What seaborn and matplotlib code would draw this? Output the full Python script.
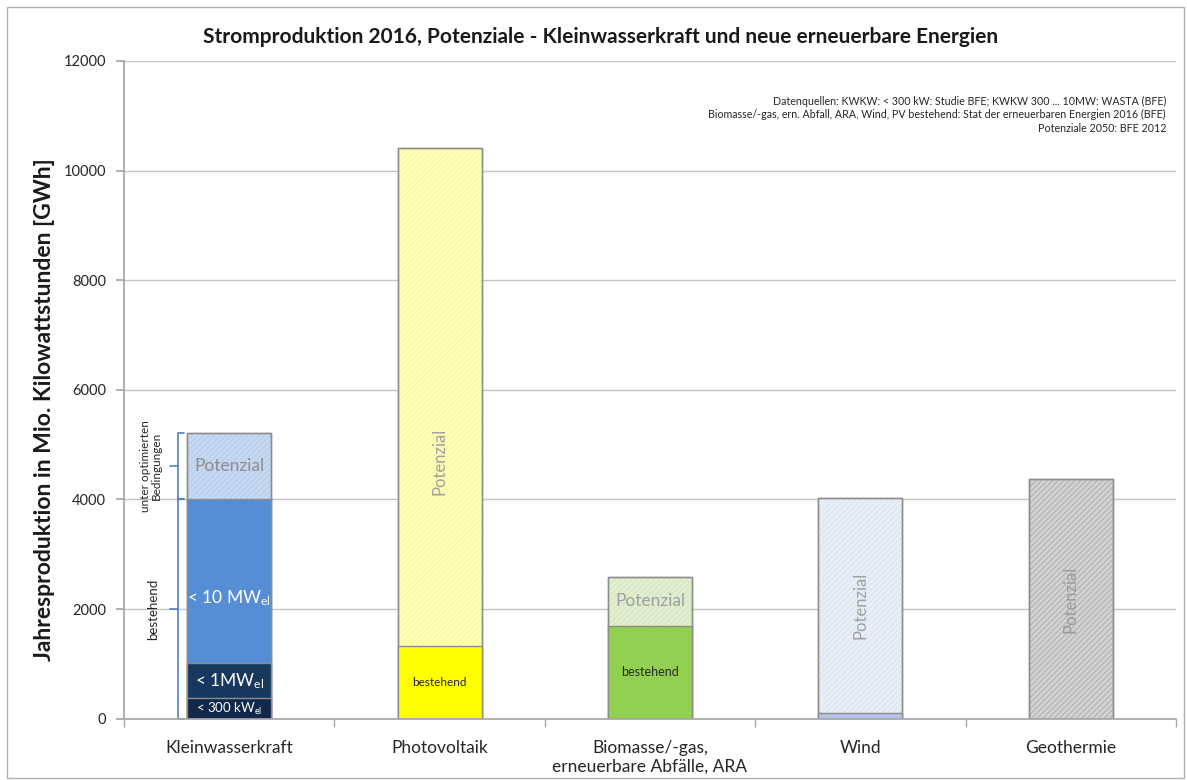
import matplotlib
matplotlib.use("Agg")
import matplotlib.pyplot as plt
import seaborn as sns
from matplotlib.patches import Rectangle

# ---------------- data ----------------
categories = ["Kleinwasserkraft", "Photovoltaik",
              "Biomasse/-gas,\nerneuerbare Abfälle, ARA", "Wind", "Geothermie"]
potenzial_total = [5220, 10420, 2580, 4020, 4370]   # top of each bar (GWh)
bestehend = [4000, 1330, 1700, 110, 0]              # existing production (GWh)
kwkw_unter_1mw = 1010                               # cumulative < 1 MW
kwkw_unter_300kw = 370                              # < 300 kW
y_ticks = [0, 2000, 4000, 6000, 8000, 10000, 12000]
source_lines = [
    "Datenquellen: KWKW: < 300 kW: Studie BFE; KWKW 300 ... 10MW: WASTA (BFE)",
    "Biomasse/-gas, ern. Abfall, ARA, Wind, PV bestehend: Stat der erneuerbaren Energien 2016 (BFE)",
    "Potenziale 2050: BFE 2012",
]

pot_colors = ["#C6D9F1", "#FFFFB3", "#E1EECF", "#E9EFF8", "#D2D2D2"]
pot_hatch = ["#B2C9E8", "#F4F4A6", "#D2E2BE", "#D9E1ED", "#A8A8A8"]
best_colors = ["#558ED5", "#FFFF00", "#92D050", "#B4C7E7", "#D2D2D2"]

sns.set_theme(style="white")
plt.rcParams["font.family"] = ["Lato", "DejaVu Sans"]
plt.rcParams["mathtext.default"] = "regular"
plt.rcParams["hatch.linewidth"] = 0.6

fig = plt.figure(figsize=(11.87, 7.8), dpi=100)
ax = fig.add_axes([124 / 1187, 1 - 718.7 / 780, (1176 - 124) / 1187, (718.7 - 61) / 780])

edge = "#8C8C8C"
W = 0.4
kw = dict(order=categories, width=W, saturation=1, legend=False, ax=ax)

# potential (full bar)
sns.barplot(x=categories, y=potenzial_total, hue=categories, palette=pot_colors,
            edgecolor=edge, linewidth=1.0, **kw)
n_pot = len(ax.patches)
# hatch overlay
sns.barplot(x=categories, y=potenzial_total, hue=categories, palette=pot_hatch,
            linewidth=0, **kw)
for p, hc in zip(ax.patches[n_pot:], pot_hatch):
    p.set_facecolor("none")
    p.set_edgecolor(hc)
    p.set_linewidth(0)
    p.set_hatch("//////")
# redraw outline on top
sns.barplot(x=categories, y=potenzial_total, hue=categories, palette=pot_colors,
            linewidth=1.0, **kw)
for p in ax.patches[2 * n_pot:]:
    p.set_facecolor("none")
    p.set_edgecolor(edge)

# existing production
sns.barplot(x=categories, y=bestehend, hue=categories, palette=best_colors,
            edgecolor=edge, linewidth=1.0, **kw)

# small hydro sub-segments
sns.barplot(x=[categories[0]], y=[kwkw_unter_1mw], color="#17375E",
            edgecolor=edge, linewidth=1.0, **kw)
sns.barplot(x=[categories[0]], y=[kwkw_unter_300kw], color="#10284A",
            edgecolor=edge, linewidth=1.0, **kw)

# ---------------- axes styling ----------------
ax.set_xlim(-0.5, len(categories) - 0.5)
ax.set_ylim(0, 12000)
ax.set_yticks(y_ticks)
ax.set_yticklabels([str(t) for t in y_ticks])
ax.yaxis.grid(True, color="#C4C4C4", linewidth=1.0)
ax.set_axisbelow(True)
for s in ["top", "right"]:
    ax.spines[s].set_visible(False)
ax.spines["left"].set_color("#A6A6A6")
ax.spines["bottom"].set_color("#A6A6A6")
ax.tick_params(axis="y", left=True, length=6, color="#A6A6A6", labelsize=10.5,
               labelcolor="#262626", pad=7)
ax.tick_params(axis="x", bottom=False, labelsize=12.5, labelcolor="#262626", pad=9)
ax.set_xticks(range(len(categories)))
ax.set_xticklabels(categories, linespacing=1.2, va="top")
ax.set_xticks([i - 0.5 for i in range(len(categories) + 1)], minor=True)
ax.tick_params(axis="x", which="minor", bottom=True, length=6, color="#A6A6A6")
ax.set_xlabel("")
ax.set_ylabel("Jahresproduktion in Mio. Kilowattstunden [GWh]", fontsize=16.5,
              fontweight="bold", color="#1A1A1A")
ax.yaxis.set_label_coords(-0.066, 0.47)

fig.text(601 / 1187, 1 - 37 / 780,
         "Stromproduktion 2016, Potenziale - Kleinwasserkraft und neue erneuerbare Energien",
         ha="center", va="center", fontsize=15, fontweight="bold", color="#1A1A1A")

# source text
for i, line in enumerate(source_lines):
    fig.text(1166 / 1187, 1 - (101 + 13.5 * i) / 780, line, ha="right", va="center",
             fontsize=7.7, color="#262626")

# ---------------- bar labels ----------------
gray_txt = "#A0A0A0"
ax.text(0, (bestehend[0] + potenzial_total[0]) / 2, "Potenzial", ha="center",
        va="center", fontsize=12.5, color="#8C8C8C")
ax.text(0, 2200, "< 10 MW$_{el}$", ha="center", va="center", fontsize=12.5, color="white")
ax.text(0, (kwkw_unter_1mw + kwkw_unter_300kw) / 2, "< 1MW$_{el}$", ha="center",
        va="center", fontsize=12.5, color="white")
ax.text(0, kwkw_unter_300kw / 2, "< 300 kW$_{el}$", ha="center", va="center",
        fontsize=9.5, color="white")

ax.text(1, 4700, "Potenzial", ha="center", va="center", rotation=90,
        fontsize=12, color=gray_txt)
ax.text(1, bestehend[1] / 2, "bestehend", ha="center", va="center",
        fontsize=8.5, color="#262626")

ax.text(2, (bestehend[2] + potenzial_total[2]) / 2, "Potenzial", ha="center",
        va="center", fontsize=12.5, color=gray_txt)
ax.text(2, bestehend[2] / 2, "bestehend", ha="center", va="center",
        fontsize=9, color="#262626")

ax.text(3, (bestehend[3] + potenzial_total[3]) / 2, "Potenzial", ha="center",
        va="center", rotation=90, fontsize=12, color=gray_txt)
ax.text(4, potenzial_total[4] / 2, "Potenzial", ha="center", va="center",
        rotation=90, fontsize=12, color="#9A9A9A")

# ---------------- braces left of small hydro ----------------
bc = "#4F81BD"
xb = -0.243
hook = 0.03
point = 0.04


def brace(y0, y1):
    ym = (y0 + y1) / 2
    ax.plot([xb + hook, xb, xb, xb + hook], [y1, y1, y0, y0], color=bc, lw=1.2,
            solid_joinstyle="round", clip_on=False)
    ax.plot([xb, xb - point], [ym, ym], color=bc, lw=1.2, clip_on=False)


brace(bestehend[0], potenzial_total[0])
brace(0, bestehend[0])
ax.text(-0.37, (bestehend[0] + potenzial_total[0]) / 2, "unter optimierten\nBedingungen",
        rotation=90, ha="center", va="center", fontsize=8.5, color="#262626",
        linespacing=1.0)
ax.text(-0.36, 2000, "bestehend", rotation=90, ha="center", va="center",
        fontsize=9.5, color="#262626")

# figure frame
fig.patches.append(Rectangle((7 / 1187, 2 / 780), 1177 / 1187, 771 / 780,
                             transform=fig.transFigure, fill=False,
                             edgecolor="#B0B0B0", linewidth=1.0))

fig.savefig("out.png", dpi=100)
